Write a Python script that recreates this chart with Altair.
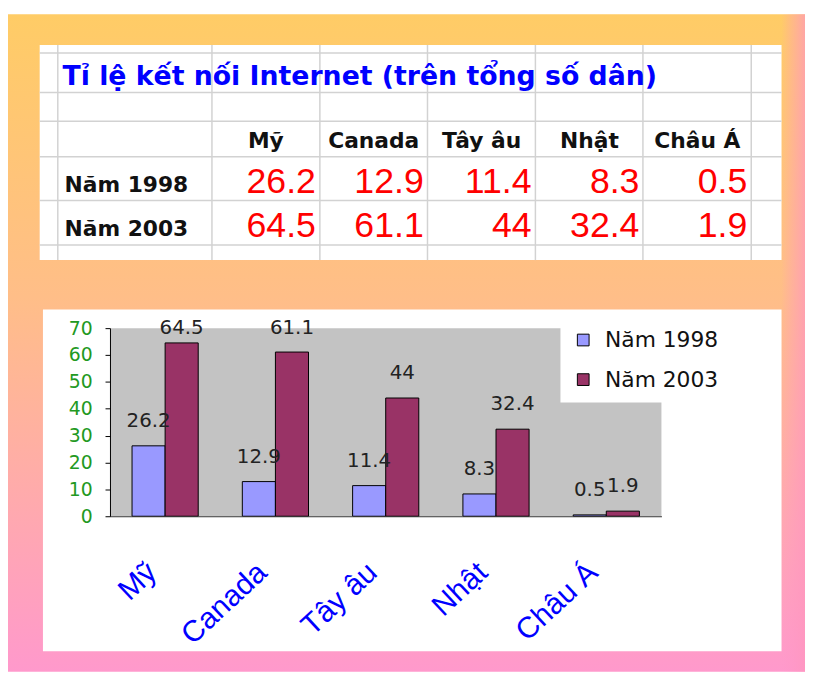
import altair as alt
import pandas as pd

# ---------------- data ----------------
categories = ["Mỹ", "Canada", "Tây âu", "Nhật", "Châu Á"]
series_names = ["Năm 1998", "Năm 2003"]
values_1998 = [26.2, 12.9, 11.4, 8.3, 0.5]
values_2003 = [64.5, 61.1, 44, 32.4, 1.9]
title_text = "Tỉ lệ kết nối Internet (trên tổng số dân)"
y_ticks = [0, 10, 20, 30, 40, 50, 60, 70]
bar_colors = ["#9999FF", "#993366"]

# ---------------- layout (page pixels) ----------------
W, H = 557, 190
PAD = {"left": 103, "top": 320, "right": 145, "bottom": 157}
OX, OY = 8 + PAD["left"], 8 + PAD["top"]


def px(x):
    return x - OX


def py(y):
    return y - OY


def fmt(v):
    return f"{v:g}"


rows = []
for name, vals in zip(series_names, [values_1998, values_2003]):
    for c, v in zip(categories, vals):
        rows.append({"cat": c, "series": name, "value": v, "label": fmt(v)})
bars_df = pd.DataFrame(rows)

one = pd.DataFrame({"k": [0]})


def deco_rect(x0, x1, y0, y1, **mk):
    return alt.Chart(one).mark_rect(**mk).encode(
        x=alt.value(px(x0)), x2=alt.value(px(x1)),
        y=alt.value(py(y0)), y2=alt.value(py(y1)))


def deco_rule(x0, x1, y0, y1, **mk):
    return alt.Chart(one).mark_rule(**mk).encode(
        x=alt.value(px(x0)), x2=alt.value(px(x1)),
        y=alt.value(py(y0)), y2=alt.value(py(y1)))


# ---------------- background ----------------
bg = deco_rect(8, 813, 11, 675, fill=alt.LinearGradient(
    gradient="linear", x1=0, x2=0, y1=0, y2=1,
    stops=[alt.GradientStop(color="#FFCC66", offset=0),
           alt.GradientStop(color="#FFBE88", offset=0.43),
           alt.GradientStop(color="#FF99CC", offset=1)]))
shadow = deco_rect(789, 813, 11, 675, fill=alt.LinearGradient(
    gradient="linear", x1=0, x2=1, y1=0, y2=0,
    stops=[alt.GradientStop(color="rgba(255,150,200,0)", offset=0),
           alt.GradientStop(color="rgba(255,150,190,0.7)", offset=1)]))

table_panel = deco_rect(40, 789.3, 42, 259.3, fill="#FFFFFF")
grid_layers = []
for gx in [58.3, 214, 323, 431.7, 540.7, 649.3, 758.7]:
    grid_layers.append(deco_rule(gx, gx, 42, 259.3, color="#D2D2D2", strokeWidth=1.5))
for gy in [50, 90, 119, 155, 199, 244]:
    grid_layers.append(deco_rule(40, 789.3, gy, gy, color="#D2D2D2", strokeWidth=1.5))

chart_panel = deco_rect(43.3, 789.3, 309.3, 654.3, fill="#FFFFFF")

# ---------------- table ----------------
col_domain = ["label"] + categories
row_domain = ["title", "header"] + series_names
COL_W = (758.7 - 105.06) / len(col_domain)
xs = alt.Scale(domain=col_domain, range=[px(105.06), px(758.7)], paddingInner=0, paddingOuter=0)
ys = alt.Scale(domain=row_domain, range=[py(68.6), py(246.2)], paddingInner=0, paddingOuter=0)

title_df = pd.DataFrame({"col": ["label"], "row": ["title"], "text": [title_text]})
header_df = pd.DataFrame({"col": categories, "row": ["header"] * len(categories), "text": categories})
rowlab_df = pd.DataFrame({"col": ["label"] * 2, "row": series_names, "text": series_names})
val_df = pd.DataFrame({"col": bars_df["cat"], "row": bars_df["series"], "text": bars_df["label"]})

tx = alt.X("col:N", scale=xs, axis=None)
ty = alt.Y("row:N", scale=ys, axis=None)

t_title = alt.Chart(title_df).mark_text(
    align="left", baseline="alphabetic", dx=-42 - COL_W / 2, dy=-8, font="DejaVu Sans",
    fontWeight="bold", fontSize=27, color="#0000FF").encode(x=tx, y=ty, text="text:N")
t_header = alt.Chart(header_df).mark_text(
    align="center", baseline="alphabetic", dy=10.5, font="DejaVu Sans",
    fontWeight="bold", fontSize=22, color="#111111").encode(x=tx, y=ty, text="text:N")
t_rowlab = alt.Chart(rowlab_df).mark_text(
    align="left", baseline="alphabetic", dx=-40 - COL_W / 2, dy=11.3, font="DejaVu Sans",
    fontWeight="bold", fontSize=22, color="#111111").encode(x=tx, y=ty, text="text:N")
t_vals = alt.Chart(val_df).mark_text(
    align="right", baseline="alphabetic", dx=COL_W / 2 - 4, dy=12, font="Liberation Sans",
    fontSize=36, color="#FF0000").encode(x=tx, y=ty, text="text:N")

# ---------------- bar chart ----------------
x_scale = alt.Scale(domain=categories, paddingInner=0.4, paddingOuter=0.2)
xo_scale = alt.Scale(domain=series_names, paddingInner=0, paddingOuter=0)
y_scale = alt.Scale(domain=[0, 70], nice=False, zero=True)

gray = alt.Chart(one).mark_rect(fill="#C3C3C3").encode(
    x=alt.value(0), x2=alt.value(W), y=alt.value(0), y2=alt.value(H))

bars = alt.Chart(bars_df).mark_bar(stroke="black", strokeWidth=1).encode(
    x=alt.X("cat:N", sort=categories, scale=x_scale, title=None,
            axis=alt.Axis(orient="bottom", labelAngle=-43, labelAlign="right",
                          labelBaseline="middle", labelFont="Liberation Sans",
                          labelFontSize=30, labelColor="#0000FF", labelPadding=52,
                          labelOffset=-13, ticks=False, tickSize=0, domainColor="#333333",
                          grid=False, labelOverlap=False, labelBound=False, zindex=2)),
    xOffset=alt.XOffset("series:N", sort=series_names, scale=xo_scale),
    y=alt.Y("value:Q", scale=y_scale, title=None,
            axis=alt.Axis(orient="left", values=y_ticks, tickSize=5, tickColor="black",
                          domainColor="black", labelColor="#229922", labelFont="DejaVu Sans",
                          labelFontSize=19, labelPadding=13, grid=False, zindex=2)),
    color=alt.Color("series:N", sort=series_names,
                    scale=alt.Scale(domain=series_names, range=bar_colors),
                    legend=alt.Legend(orient="none", legendX=455, legendY=-11, title=None,
                                      fillColor="white", padding=12, symbolType="square",
                                      symbolSize=140, symbolStrokeColor="black",
                                      symbolStrokeWidth=1, symbolOpacity=1,
                                      labelFont="DejaVu Sans", labelFontSize=22,
                                      labelColor="#111111", labelOffset=11, rowPadding=18,
                                      zindex=2)),
)

labels = alt.Chart(bars_df).transform_calculate(ly="min(datum.value, 61)").mark_text(
    baseline="alphabetic", dy=-19, font="DejaVu Sans", fontSize=20, color="#222222").encode(
    x=alt.X("cat:N", sort=categories, scale=x_scale, axis=None),
    xOffset=alt.XOffset("series:N", sort=series_names, scale=xo_scale),
    y=alt.Y("ly:Q", scale=y_scale, axis=None),
    text="label:N",
)

chart = alt.layer(
    bg, shadow, table_panel, *grid_layers, t_title, t_header, t_rowlab, t_vals,
    chart_panel, gray, bars, labels
).resolve_scale(x="independent", y="independent").properties(
    width=W, height=H, padding=PAD, autosize=alt.AutoSizeParams(type="none")
).configure_view(stroke=None)

chart.save("out.html", embed_options={"renderer": "svg", "actions": False})
